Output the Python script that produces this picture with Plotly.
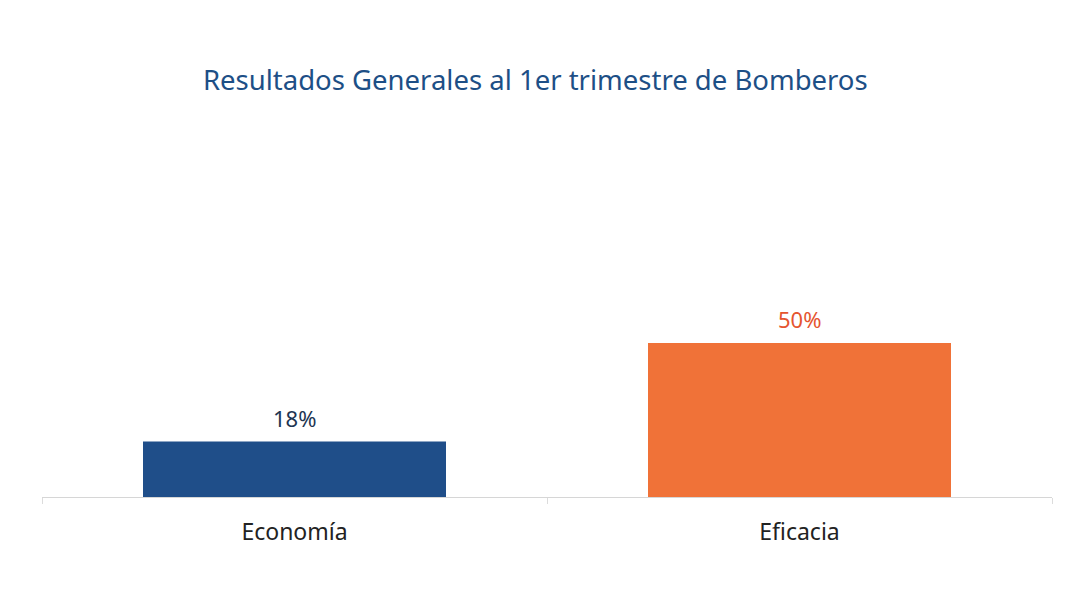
import plotly.graph_objects as go

categories = ["Economía", "Eficacia"]
values = [18, 50]
labels = ["18%", "50%"]
bar_colors = ["#1f4e89", "#f07238"]
label_colors = ["#1e3552", "#e5552f"]

fig = go.Figure(
    go.Bar(
        x=categories,
        y=values,
        marker=dict(color=bar_colors, line=dict(width=0)),
        width=0.60,
        hoverinfo="skip",
    )
)

for cat, val, lab, col in zip(categories, values, labels, label_colors):
    fig.add_annotation(
        x=cat,
        y=val,
        text=lab,
        showarrow=False,
        yanchor="middle",
        yshift=24,
        font=dict(size=22, color=col, family="Noto Sans"),
    )

fig.update_layout(
    width=1074,
    height=612,
    paper_bgcolor="white",
    plot_bgcolor="white",
    margin=dict(l=34, r=30, t=107, b=123),
    title=dict(
        text="Resultados Generales al 1er trimestre de Bomberos",
        x=0.491,
        xanchor="center",
        y=0.882,
        yanchor="middle",
        font=dict(size=27.5, color="#1d4f86", family="Noto Sans"),
    ),
    showlegend=False,
)
fig.update_xaxes(
    showline=True,
    linecolor="#d6d6d6",
    linewidth=1,
    ticks="outside",
    tickson="boundaries",
    ticklen=6,
    tickcolor="#dcdcdc",
    ticklabelstandoff=14,
    tickfont=dict(size=23, color="#222222", family="Noto Sans"),
    showgrid=False,
)
fig.update_yaxes(
    range=[0, 124],
    visible=False,
    showgrid=False,
    zeroline=False,
)

fig.write_html("out.html")
